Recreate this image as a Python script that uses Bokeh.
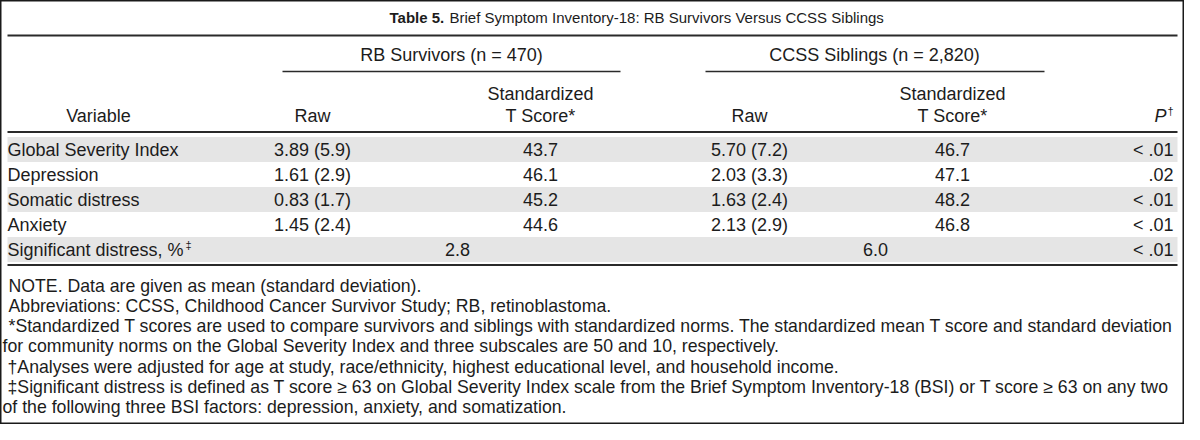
from bokeh.plotting import figure
from bokeh.models import Range1d
from bokeh.core.properties import value
from bokeh.embed import file_html
from bokeh.resources import INLINE

# ---------------- data ----------------
variables = ["Global Severity Index", "Depression", "Somatic distress", "Anxiety", "Significant distress, %"]
rb_raw_mean = [3.89, 1.61, 0.83, 1.45]
rb_raw_sd = [5.9, 2.9, 1.7, 2.4]
rb_t_score = [43.7, 46.1, 45.2, 44.6]
ccss_raw_mean = [5.70, 2.03, 1.63, 2.13]
ccss_raw_sd = [7.2, 3.3, 2.4, 2.9]
ccss_t_score = [46.7, 47.1, 48.2, 46.8]
sig_distress_pct = [2.8, 6.0]          # RB survivors, CCSS siblings
p_values = ["< .01", ".02", "< .01", "< .01", "< .01"]
group_labels = ["RB Survivors (n = 470)", "CCSS Siblings (n = 2,820)"]
footnotes = [
    "NOTE. Data are given as mean (standard deviation).",
    "Abbreviations: CCSS, Childhood Cancer Survivor Study; RB, retinoblastoma.",
    "*Standardized T scores are used to compare survivors and siblings with standardized norms. The standardized mean T score and standard deviation",
    "for community norms on the Global Severity Index and three subscales are 50 and 10, respectively.",
    "\u2020Analyses were adjusted for age at study, race/ethnicity, highest educational level, and household income.",
    "\u2021Significant distress is defined as T score \u2265 63 on Global Severity Index scale from the Brief Symptom Inventory-18 (BSI) or T score \u2265 63 on any two",
    "of the following three BSI factors: depression, anxiety, and somatization.",
]
footnote_indent = [16, 16, 16, 10, 15, 15, 10]

# ---------------- figure ----------------
FONT = value("Liberation Sans")
SIZE = 18
FS = f"{SIZE}px"
FOOT_FS = "17.7px"
INK = "#1c1c1c"

p = figure(width=1184, height=424, x_range=Range1d(8, 1192), y_range=Range1d(432, 8),
           output_backend="svg", toolbar_location=None, min_border=0)
p.axis.visible = False
p.grid.visible = False
p.outline_line_color = "#1a1a1a"
p.outline_line_width = 2
p.background_fill_color = "white"
p.border_fill_color = "white"

L, R = 15, 1185
row_y0, row_h = 157, 25
rows_y = [row_y0 + row_h * i for i in range(len(variables))]

# shaded bands on alternate rows
band_rows = [y for i, y in enumerate(rows_y) if i % 2 == 0]
p.quad(left=L, right=R, top=[y - row_h / 2 for y in band_rows], bottom=[y + row_h / 2 for y in band_rows],
       fill_color="#e5e5e5", line_color=None)

# rules
p.segment(x0=[L, L, L], x1=[R, R, R], y0=[43, 139.5, 272.5], y1=[43, 139.5, 272.5], line_color="#2a2a2a", line_width=2)
p.segment(x0=[290, 713], x1=[628, 1052], y0=[79, 79], y1=[79, 79], line_color="#2a2a2a", line_width=1.6)

def txt(x, y, t, align="center", size=FS, style="normal", color=INK):
    if not isinstance(x, list):
        x, y, t = [x], [y], [t]
    p.text(x=x, y=y, text=t, text_font=FONT, text_font_size=size, text_align=align,
           text_baseline="middle", text_color=color, text_font_style=style)

# title
txt(397, 25, "Table 5.", align="left", style="bold", size="15px")
txt(457, 25, "Brief Symptom Inventory-18: RB Survivors Versus CCSS Siblings", align="left", size="15px")

# column headers
col_raw_rb, col_t_rb, col_raw_cc, col_t_cc, col_p = 320, 548, 757, 960, 1181
grp_centers = [459, 882]
txt(grp_centers, [62, 62], group_labels)
txt([106, col_raw_rb, col_raw_cc], [123] * 3, ["Variable", "Raw", "Raw"])
txt([col_t_rb, col_t_cc], [101, 101], ["Standardized", "Standardized"])
txt([col_t_rb, col_t_cc], [123, 123], ["T Score*", "T Score*"])
txt(col_p - 7, 123, "P", align="right", style="italic")
txt(col_p, 118, "\u2020", align="right", size="11px")

# body
txt([L] * len(variables), rows_y, variables, align="left")
sig_w = 9.781 * SIZE  # approx. advance width of the last label (Arial metrics)
txt(L + sig_w + 2, rows_y[-1] - 5, "\u2021", align="left", size="11px")
n = len(rb_raw_mean)
txt([col_raw_rb] * n, rows_y[:n], [f"{m:.2f} ({s:.1f})" for m, s in zip(rb_raw_mean, rb_raw_sd)])
txt([col_t_rb] * n, rows_y[:n], [f"{v:.1f}" for v in rb_t_score])
txt([col_raw_cc] * n, rows_y[:n], [f"{m:.2f} ({s:.1f})" for m, s in zip(ccss_raw_mean, ccss_raw_sd)])
txt([col_t_cc] * n, rows_y[:n], [f"{v:.1f}" for v in ccss_t_score])
txt([grp_centers[0] + 6, grp_centers[1] + 1], [rows_y[-1]] * 2, [f"{v:.1f}" for v in sig_distress_pct])
txt([col_p] * len(p_values), rows_y, p_values, align="right")

# footnotes
fy = [293 + 20.3 * i for i in range(len(footnotes))]
txt(footnote_indent, fy, footnotes, align="left", size=FOOT_FS)

open("out.html", "w").write(file_html(p, INLINE))
